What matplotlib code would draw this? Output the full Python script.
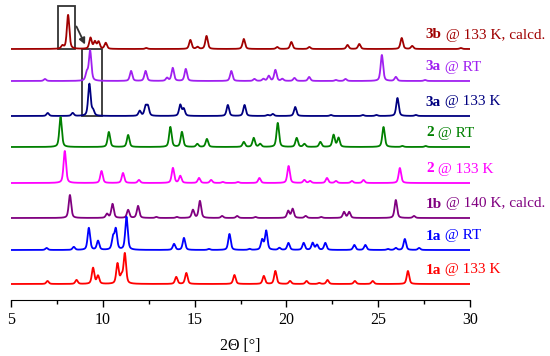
import numpy as np
import matplotlib
matplotlib.use("Agg")
import matplotlib.pyplot as plt
from matplotlib.patches import Rectangle

plt.rcParams['font.family'] = ['Liberation Serif', 'DejaVu Serif']

# peak positions (2Theta) and heights, one pair per pattern
pos_3b = [7.8, 8.11, 9.33, 9.57, 9.77, 10.16, 12.37, 14.77, 15.16, 15.65, 17.68, 19.5, 20.27, 21.25, 23.33, 23.97, 26.28, 26.85, 29.5]
hgt_3b = [3, 34, 11, 7, 7, 6, 1, 9, 2, 13, 10, 2, 7, 2, 4, 5, 11, 3, 1]

pos_3a_rt = [6.85, 9.13, 9.31, 11.54, 12.33, 13.5, 13.81, 14.52, 17.0, 18.26, 18.75, 19.04, 19.4, 19.78, 20.44, 21.24, 22.7, 23.22, 25.2, 25.96, 27.55]
hgt_3a_rt = [2, 8, 30, 10, 10, 3, 13, 12, 10, 2, 2, 5, 11, 2, 3, 4, 1, 2, 26, 4, 1]

pos_3a_133 = [7.0, 8.36, 9.27, 9.47, 12.01, 12.33, 12.46, 14.22, 14.41, 16.81, 17.72, 18.98, 19.26, 20.48, 22.43, 24.17, 24.9, 26.05, 27.05]
hgt_3a_133 = [3, 3, 32, 5, 5, 9, 9, 11, 7, 11, 11, 1, 2, 9, 1, 1, 1, 18, 1]

pos_2_rt = [7.7, 10.33, 11.38, 13.68, 14.31, 15.15, 15.67, 17.68, 18.22, 18.57, 19.53, 20.56, 20.98, 21.85, 22.57, 22.84, 25.29, 26.32, 27.59]
hgt_2_rt = [30, 15, 12, 20, 15, 3, 8, 5, 9, 3, 24, 9, 3, 5, 12, 9, 20, 1, 1]

pos_2_133 = [7.93, 9.93, 11.1, 11.97, 13.82, 14.22, 15.24, 15.9, 16.54, 17.36, 18.53, 20.12, 20.98, 21.29, 22.21, 22.7, 23.57, 24.2, 26.18]
hgt_2_133 = [32, 12, 10, 3, 15, 7, 5, 3, 1, 1, 5, 17, 3, 2, 5, 2, 2, 3, 15]

pos_1b = [8.21, 10.23, 10.53, 11.38, 11.92, 12.92, 14.04, 14.91, 15.29, 16.5, 17.32, 18.32, 20.1, 20.34, 21.05, 21.9, 23.14, 23.42, 25.96, 26.95]
hgt_1b = [23, 4, 14, 8, 12, 1, 1, 8, 17, 2, 2, 1, 7, 9, 2, 1, 6, 6, 18, 2]

pos_1a_rt = [6.94, 8.42, 9.24, 9.74, 10.56, 10.71, 11.29, 13.88, 14.42, 15.78, 16.9, 17.99, 18.68, 18.9, 19.62, 20.11, 20.94, 21.43, 21.67, 22.12, 23.7, 24.3, 25.53, 25.96, 26.45, 27.23]
hgt_1a_rt = [2, 3, 22, 9, 12, 20, 33, 6, 12, 1, 16, 1, 10, 19, 2, 7, 7, 7, 5, 7, 5, 5, 1, 2, 11, 2]

pos_1a_133 = [6.99, 8.57, 9.47, 9.74, 10.8, 11.02, 11.2, 14.0, 14.55, 17.17, 18.77, 19.4, 20.2, 21.1, 21.79, 22.24, 23.73, 24.7, 26.62]
hgt_1a_133 = [3, 4, 16, 8, 20, 7, 30, 7, 11, 9, 8, 13, 3, 3, 1, 4, 3, 3, 13]

# offsets of the stacked patterns and their labels (top to bottom)
offsets = [251, 219, 184, 153, 117, 82, 50, 16]
names_bold = ["3b", "3a", "3a", "2", "2", "1b", "1a", "1a"]
names_rest = [" @ 133 K, calcd.", " @ RT", " @ 133 K", " @ RT", " @ 133 K",
              " @ 140 K, calcd.", " @ RT", " @ 133 K"]
colors = ["#A00000", "#A020F0", "#000080", "#008000", "#FF00FF",
          "#800080", "#0000FF", "#FF0000"]

all_pos = [pos_3b, pos_3a_rt, pos_3a_133, pos_2_rt, pos_2_133, pos_1b, pos_1a_rt, pos_1a_133]
all_hgt = [hgt_3b, hgt_3a_rt, hgt_3a_133, hgt_2_rt, hgt_2_133, hgt_1b, hgt_1a_rt, hgt_1a_133]

tt = np.linspace(5, 30, 2501)


# pseudo-Voigt peak profile summed over the peak list
def Pattern(pos, hgt, w=0.08):
    y = np.zeros_like(tt)
    for p, h in zip(pos, hgt):
        d = (tt - p) / w
        y += h * (0.5 / (1 + d**2) + 0.5 * np.exp(-np.log(2) * d**2))
    return y


fig = plt.figure(figsize=(5.5, 3.56), dpi=100)
ax = fig.add_axes([11/550, 56/356, 459/550, 300/356])

for pos, hgt, off, col in zip(all_pos, all_hgt, offsets, colors):
    ax.plot(tt, Pattern(pos, hgt) + off, color=col, lw=1.3)

# labels: bold compound number followed by regular text
for off, b, r, col in zip(offsets, names_bold, names_rest, colors):
    t = ax.text(27.6, off + 14, b, color=col, fontsize=11, fontweight="bold",
                va="center", ha="left")
    ax.annotate(r, xy=(1, 0), xycoords=t, va="bottom", ha="left",
                color=col, fontsize=11)

# zoom boxes with arrow
ax.add_patch(Rectangle((7.55, 251), 0.95, 43, fill=False, ec="#333333", lw=1.3, clip_on=False))
ax.add_patch(Rectangle((8.84, 184), 1.14, 67, fill=False, ec="#333333", lw=1.3, clip_on=False))
ax.annotate("", xy=(9.1, 253), xytext=(8.5, 276),
            arrowprops=dict(arrowstyle="-|>", color="#333333", lw=1.3, mutation_scale=9))

ax.set_xlim(5, 30)
ax.set_ylim(0, 300)
ax.set_xticks([5, 10, 15, 20, 25, 30])
ax.set_xticks([7.5, 12.5, 17.5, 22.5, 27.5], minor=True)
ax.tick_params(axis="x", which="major", length=5, width=1, labelsize=11.5, pad=4)
ax.tick_params(axis="x", which="minor", length=3, width=1)
ax.set_yticks([])
for s in ["left", "right", "top"]:
    ax.spines[s].set_visible(False)
ax.set_xlabel("2Θ [°]", fontsize=11.5, labelpad=7)

plt.savefig("out.png", dpi=100)
